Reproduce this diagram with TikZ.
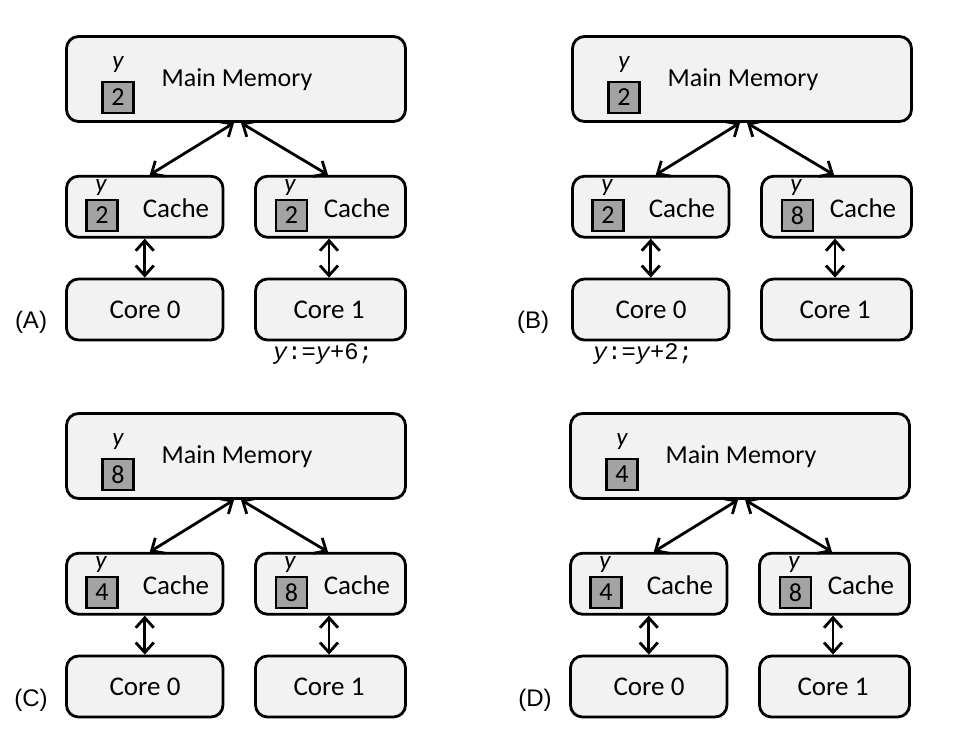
\documentclass[tikz,border=0pt]{standalone}
\usepackage{fontspec}
\setmainfont{Carlito}
\newfontfamily\labfont{Liberation Sans}
\newfontfamily\codefont{Liberation Mono}
\usetikzlibrary{arrows.meta}
\definecolor{boxfill}{HTML}{F2F2F2}
\definecolor{valfill}{HTML}{A3A3A3}
\tikzset{
  unitbox/.style={draw=black, line width=2.8pt, fill=boxfill, rounded corners=12pt, inner sep=0pt},
  membox/.style={unitbox, minimum width=339pt, minimum height=85pt},
  lcbox/.style={unitbox, minimum width=156.5pt, minimum height=61pt},
  rcbox/.style={unitbox, minimum width=150pt, minimum height=61pt},
  valbox/.style={draw=black, line width=2.2pt, fill=valfill, minimum width=31pt, minimum height=31pt, inner sep=0pt, font=\fontsize{26}{30}\selectfont},
  lbl/.style={font=\fontsize{27}{32}\selectfont, inner sep=0pt},
  mlbl/.style={font=\fontsize{26}{31}\selectfont, inner sep=0pt},
  ylbl/.style={font=\fontsize{25}{29}\selectfont\itshape, inner sep=0pt},
  panellbl/.style={font=\labfont\fontsize{24}{28}\selectfont, inner sep=0pt},
  codelbl/.style={font=\codefont\fontsize{23.8}{28}\selectfont, inner sep=0pt},
  tip/.style={Straight Barb[length=10pt,width=18pt,line width=2.8pt]},
  link/.style={line width=2.8pt, {Straight Barb[length=10pt,width=18pt,line width=2.8pt]}-{Straight Barb[length=10pt,width=18pt,line width=2.8pt]}},
}
\newcommand\drawpanel[6]{%
  \begin{scope}[shift={(#1,#2)}, name prefix=#3-]
    \node[membox] (mm) at (236,79) {};
    \node[mlbl] (mmt) at (237,80) {Main Memory};
    \node[valbox] (mmv) at (118,97.5) {#4};
    \node[ylbl] (mmy) at (118,65) {y};
    \node[lcbox] (ca) at (144.75,206.75) {};
    \node[lbl] (cat) at (176,208) {Cache};
    \node[valbox] (cav) at (102,215.5) {#5};
    \node[ylbl] (cay) at (101,188) {y};
    \node[rcbox] (cb) at (330.5,206.75) {};
    \node[lbl] (cbt) at (357,208) {Cache};
    \node[valbox] (cbv) at (291.5,215.5) {#6};
    \node[ylbl] (cby) at (290,188) {y};
    \node[lcbox] (k0) at (144.75,309.5) {};
    \node[lbl] (k0t) at (145,310) {Core 0};
    \node[rcbox] (k1) at (330.5,309.5) {};
    \node[lbl] (k1t) at (329,310) {Core 1};
    \draw[link] ([xshift=-2pt]mm.south) -- ([xshift=5pt]ca.north);
    \draw[link] ([xshift=5pt]mm.south) -- ([xshift=-2.5pt]cb.north);
    \draw[link] (ca.south) -- (k0.north);
    \draw[link] ([xshift=-1.5pt]cb.south) -- ([xshift=-1.5pt]k1.north);
  \end{scope}}
\begin{document}
\begin{tikzpicture}[x=1pt,y=-1pt]
  \useasboundingbox (0,0) rectangle (953,750);
  \drawpanel{0}{0}{A}{2}{2}{2}
  \drawpanel{506}{0}{B}{2}{2}{8}
  \drawpanel{0}{377}{C}{8}{4}{8}
  \drawpanel{504}{377}{D}{4}{4}{8}
  \node[panellbl] (la) at (31,322) {(A)};
  \node[panellbl] (lb) at (533,322) {(B)};
  \node[panellbl] (lc) at (31,700) {(C)};
  \node[panellbl] (ld) at (535,700) {(D)};
  \node[codelbl] (codea) at (323,354) {\itshape y\upshape:=\itshape y\upshape+6;};
  \node[codelbl] (codeb) at (643,354) {\itshape y\upshape:=\itshape y\upshape+2;};
\end{tikzpicture}
\end{document}
